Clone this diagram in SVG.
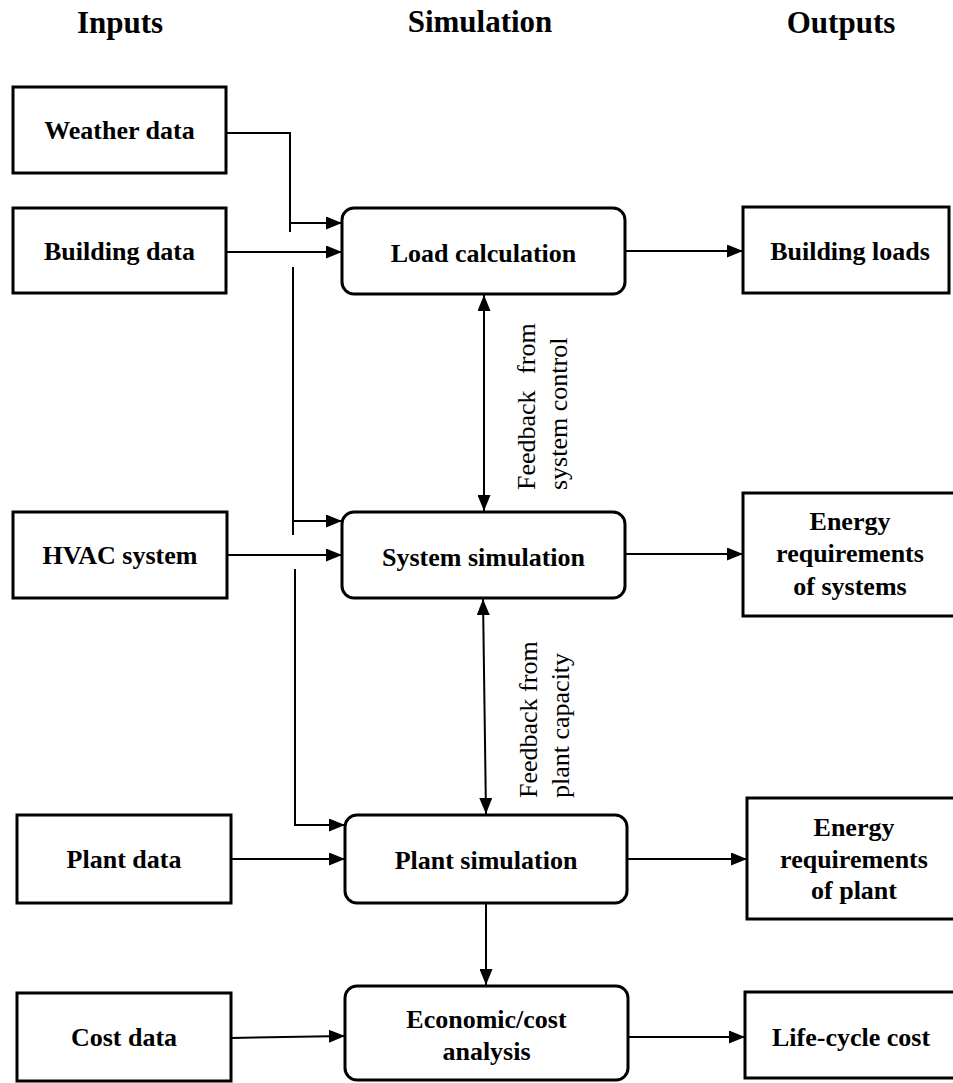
<svg xmlns="http://www.w3.org/2000/svg" width="953" height="1083" viewBox="0 0 953 1083">
<style>
.box{fill:#fff;stroke:#000;stroke-width:3}
.t{font-family:'Times New Roman','Liberation Serif',serif;font-weight:700;font-size:26px;fill:#000;text-anchor:middle}
.h{font-family:'Times New Roman','Liberation Serif',serif;font-weight:700;font-size:31px;fill:#000;text-anchor:middle}
.f{font-family:'Times New Roman','Liberation Serif',serif;font-size:26px;fill:#000}
.c{fill:none;stroke:#000;stroke-width:2}
</style>
<defs>
<marker id="ah" viewBox="0 0 16 13" refX="16" refY="6.5" markerWidth="16" markerHeight="13" markerUnits="userSpaceOnUse" orient="auto-start-reverse">
<path d="M0,0 L16,6.5 L0,13 z" fill="#000"/>
</marker>
</defs>
<rect width="953" height="1083" fill="#fff"/>
<g id="headers">
<text class="h" x="120" y="33">Inputs</text>
<text class="h" x="480" y="32">Simulation</text>
<text class="h" x="841" y="33">Outputs</text>
</g>
<g id="connectors">
<path class="c" d="M226,133 H290 V232"/>
<path class="c" d="M290,223 H342" marker-end="url(#ah)"/>
<path class="c" d="M226,252 H342" marker-end="url(#ah)"/>
<path class="c" d="M293,267 V535"/>
<path class="c" d="M293,521 H342" marker-end="url(#ah)"/>
<path class="c" d="M227,555 H342" marker-end="url(#ah)"/>
<path class="c" d="M295,569 V825 H345" marker-end="url(#ah)"/>
<path class="c" d="M231,859 H345" marker-end="url(#ah)"/>
<path class="c" d="M231,1038 L345,1036" marker-end="url(#ah)"/>
<path class="c" d="M625,251 H743" marker-end="url(#ah)"/>
<path class="c" d="M625,554 H743" marker-end="url(#ah)"/>
<path class="c" d="M627,859 H747" marker-end="url(#ah)"/>
<path class="c" d="M628,1037 H745" marker-end="url(#ah)"/>
<path class="c" d="M486,903 V985" marker-end="url(#ah)"/>
<path class="c" d="M484,295 V511" marker-start="url(#ah)" marker-end="url(#ah)"/>
<path class="c" d="M483,599 L486,814" marker-start="url(#ah)" marker-end="url(#ah)"/>
</g>
<g id="feedback1">
<text class="f" transform="translate(535,490) rotate(-90)" word-spacing="10">Feedback from</text>
<text class="f" transform="translate(567,490) rotate(-90)">system control</text>
</g>
<g id="feedback2">
<text class="f" transform="translate(537,798) rotate(-90)">Feedback from</text>
<text class="f" transform="translate(569,798) rotate(-90)">plant capacity</text>
</g>
<g id="weather"><rect class="box" x="13" y="87" width="213" height="86"/><text class="t" x="119.5" y="139">Weather data</text></g>
<g id="building"><rect class="box" x="13" y="208" width="213" height="85"/><text class="t" x="119.5" y="260">Building data</text></g>
<g id="hvac"><rect class="box" x="13" y="512" width="214" height="86"/><text class="t" x="120" y="564">HVAC system</text></g>
<g id="plantdata"><rect class="box" x="17" y="815" width="214" height="88"/><text class="t" x="124" y="868">Plant data</text></g>
<g id="costdata"><rect class="box" x="17" y="993" width="214" height="88"/><text class="t" x="124" y="1046">Cost data</text></g>
<g id="load"><rect class="box" x="342" y="208" width="283" height="86" rx="12"/><text class="t" x="483.5" y="262">Load calculation</text></g>
<g id="system"><rect class="box" x="342" y="512" width="283" height="86" rx="12"/><text class="t" x="483.5" y="566">System simulation</text></g>
<g id="plant"><rect class="box" x="345" y="815" width="282" height="88" rx="12"/><text class="t" x="486" y="869">Plant simulation</text></g>
<g id="econ"><rect class="box" x="345" y="986" width="283" height="94" rx="12"/><text class="t" x="486.5" y="1028">Economic/cost</text><text class="t" x="486.5" y="1060">analysis</text></g>
<g id="bloads"><rect class="box" x="743" y="207" width="206" height="86"/><text class="t" x="850" y="260">Building loads</text></g>
<g id="esys"><rect class="box" x="743" y="493" width="214" height="123"/><text class="t" x="850" y="530">Energy</text><text class="t" x="850" y="562">requirements</text><text class="t" x="850" y="595">of systems</text></g>
<g id="eplant"><rect class="box" x="747" y="798" width="210" height="121"/><text class="t" x="854" y="836">Energy</text><text class="t" x="854" y="868">requirements</text><text class="t" x="854" y="899">of plant</text></g>
<g id="lcc"><rect class="box" x="745" y="992" width="212" height="86"/><text class="t" x="851" y="1046">Life-cycle cost</text></g>
</svg>
